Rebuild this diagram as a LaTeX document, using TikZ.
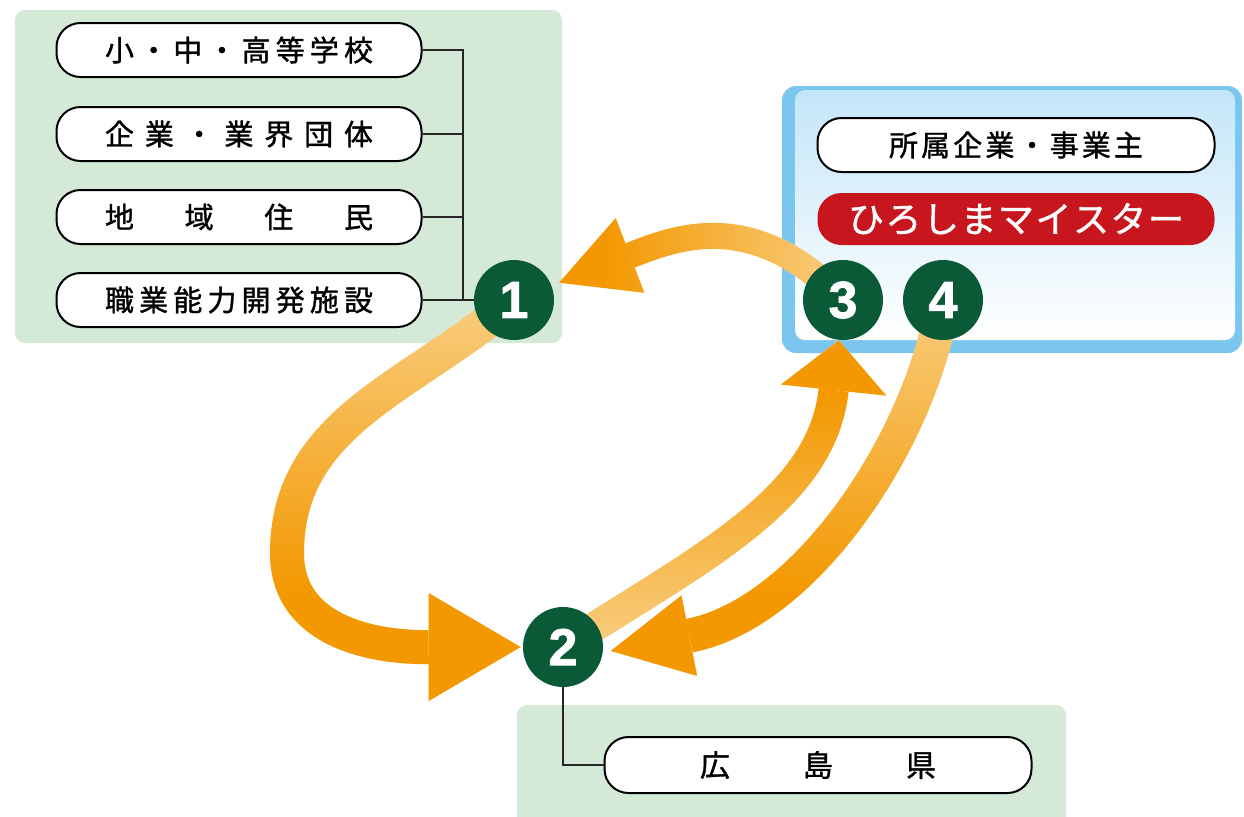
\documentclass[tikz,border=0pt]{standalone}
\usepackage{fontspec}
\newfontfamily\jp{Noto Sans CJK JP}[FakeBold=1.2]
\newfontfamily\numfont{Liberation Sans}[BoldFeatures={FakeBold=1.5}]
\usetikzlibrary{arrows.meta,fadings}

\definecolor{leafbg}{RGB}{213,233,216}
\definecolor{skyedge}{RGB}{122,198,238}
\definecolor{skytop}{RGB}{196,230,248}
\definecolor{numgreen}{RGB}{10,90,55}
\definecolor{meisterred}{RGB}{200,22,30}
\definecolor{flowlight}{RGB}{251,223,168}
\definecolor{flowdark}{RGB}{243,152,0}

\pgfdeclarelayer{panel}
\pgfdeclarelayer{flow}
\pgfsetlayers{panel,flow,main}

% clear in the west, opaque in the east third
\begin{tikzfadingfrompicture}[name=flowfade]
  \fill[transparent!100] (-50bp,-50bp) rectangle (-35bp,50bp);
  \shade[left color=transparent!100,right color=transparent!0] (-35bp,-50bp) rectangle (15bp,50bp);
  \fill[transparent!0] (15bp,-50bp) rectangle (50bp,50bp);
\end{tikzfadingfrompicture}

% spread the characters of #2 over the width #1
\makeatletter
\newcommand\evenly[2]{\hbox to #1{\let\ev@gap\relax\@tfor\ev@ch:=#2\do{\ev@gap\ev@ch\let\ev@gap\hfill}}}
\makeatother

\begin{document}
\begin{tikzpicture}
    [x=0.5pt,y=0.5pt,
     pill/.style={draw=black,line width=1pt,fill=white,rounded corners=12pt,
       minimum width=182.5pt,minimum height=27pt,inner sep=0pt,
       font=\jp\fontsize{14.5pt}{14.5pt}\selectfont},
     meister/.style={fill=meisterred,text=white,rounded corners=12pt,
       minimum width=198.5pt,minimum height=26pt,inner sep=0pt,
       font=\jp\fontsize{18pt}{18pt}\selectfont},
     numdot/.style={circle,fill=numgreen,text=white,minimum size=40pt,inner sep=0pt,
       font=\numfont\bfseries\fontsize{26pt}{26pt}\selectfont},
     link/.style={draw=black!85,line width=1pt},
     flow/.style n args={3}{line width=#1,-{Triangle[length=#2,width=#3,line width=0pt]}}]
  \useasboundingbox (0,0) rectangle (1244,-816);

  % left group
  \node[pill] (school) at (239,-50) {\evenly{134pt}{小・中・高等学校}};
  \node[pill] (firm) at (239,-134) {\evenly{134pt}{企業・業界団体}};
  \node[pill] (resident) at (239,-217) {\evenly{134pt}{地域住民}};
  \node[pill] (training) at (239,-300) {\evenly{134pt}{職業能力開発施設}};

  % steps
  \node[numdot] (c1) at (514,-300) {1};
  \node[numdot] (c2) at (563,-647) {2};
  \node[numdot] (c3) at (843,-300) {3};
  \node[numdot] (c4) at (943,-300) {4};

  % right group
  \node[pill,minimum width=198.5pt] (owner) at (1016,-145) {\evenly{127pt}{所属企業・事業主}};
  \node[meister] (meister) at (1016,-219) {\evenly{168pt}{ひろしまマイスター}};

  % prefecture
  \node[pill,minimum width=213.5pt,minimum height=28pt,font=\jp\fontsize{15pt}{15pt}\selectfont]
    (pref) at (818,-765) {\evenly{118pt}{広島県}};

  % wiring
  \coordinate (bus) at (463,-50);
  \draw[link] (school.east) -| (bus |- c1);
  \foreach \p in {firm,resident}
    \draw[link] (\p.east) -- (\p.east -| bus);
  \draw[link] (training.east) -- (c1);
  \draw[link] (c2) |- (pref.west);

  \begin{pgfonlayer}{panel}
    \fill[leafbg,rounded corners=5pt] (15,-10) rectangle (562,-343);
    \fill[leafbg,rounded corners=5pt] (517,-705) rectangle (1066,-840);
    \fill[skyedge,rounded corners=7pt] (782,-86) rectangle (1242,-353);
    \shade[top color=skytop,bottom color=white,rounded corners=5pt] (795,-90) rectangle (1235,-340);
  \end{pgfonlayer}

  \begin{pgfonlayer}{flow}
    \coordinate (bend) at (287,-553);
    % 3 -> 1
    \draw[flow={13pt}{38pt}{40pt},color=flowlight,shorten >=4pt] (c3.center) to[out=134,in=21,looseness=1.15] (c1);
    \draw[flow={13pt}{38pt}{40pt},color=flowdark,shorten >=4pt,path fading=flowfade,fading angle=180]
      (c3.center) to[out=134,in=21,looseness=1.15] (c1);
    % 1 -> 2
    \draw[flow={17pt}{46pt}{54pt},color=flowlight,shorten >=1pt] (c1.center) to[out=221,in=90] (bend) to[out=270,in=180] (c2);
    \draw[flow={17pt}{46pt}{54pt},color=flowdark,shorten >=1pt,path fading=flowfade,fading angle=-90]
      (c1.center) to[out=221,in=90] (bend) to[out=270,in=180] (c2);
    % 2 -> 3
    \draw[flow={15pt}{25pt}{53pt},color=flowlight] (c2.center) to[out=33,in=264] (c3);
    \draw[flow={15pt}{25pt}{53pt},color=flowdark,path fading=flowfade,fading angle=90]
      (c2.center) to[out=33,in=264] (c3);
    % 4 -> 2
    \draw[flow={17pt}{40pt}{41pt},color=flowlight,shorten >=4pt]
      (c4.center) to[out=262,in=11,out looseness=0.7,in looseness=1.1] (c2.352);
    \draw[flow={17pt}{40pt}{41pt},color=flowdark,shorten >=4pt,path fading=flowfade,fading angle=-90]
      (c4.center) to[out=262,in=11,out looseness=0.7,in looseness=1.1] (c2.352);
  \end{pgfonlayer}
\end{tikzpicture}
\end{document}
